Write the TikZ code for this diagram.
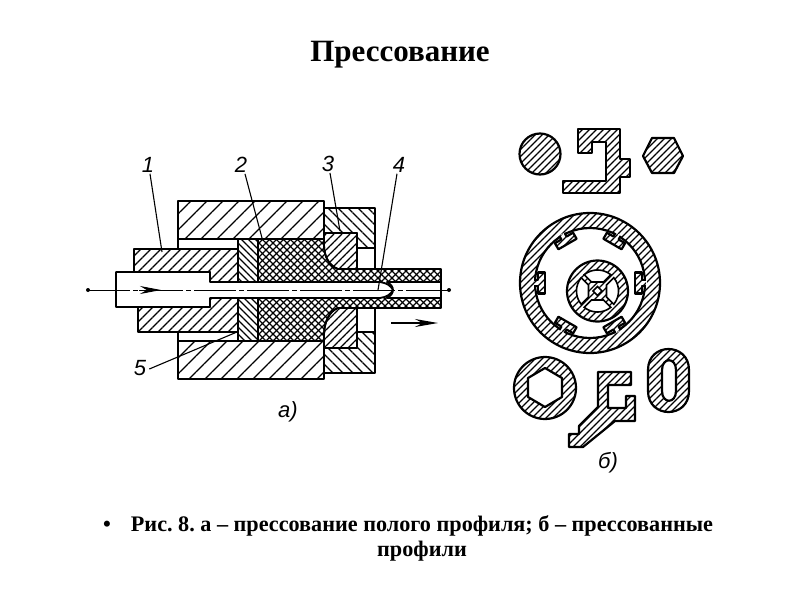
\documentclass[tikz,border=0pt]{standalone}
\usepackage{fontspec}
\setmainfont{Liberation Serif}
\newfontfamily\gostfont{Liberation Sans}
\usetikzlibrary{patterns.meta,arrows.meta}

\tikzset{
	part/.style={draw,line width=1.8pt,line join=round},
	wide/.style={part,pattern={Lines[angle=45,distance=11.314pt,line width=1.2pt]}},
	ram/.style={part,pattern={Lines[angle=45,distance=7.071pt,line width=1.2pt]}},
	holder/.style={part,pattern={Lines[angle=-45,distance=7.071pt,line width=1.2pt]}},
	disc/.style={part,pattern={Lines[angle=-45,distance=4.95pt,line width=1.2pt]}},
	die/.style={part,pattern={Lines[angle=45,distance=5.657pt,line width=1.2pt]}},
	mesh/.style={pattern={Lines[angle=45,distance=4.95pt,line width=1.3pt]}},
	meshb/.style={part,pattern={Lines[angle=-45,distance=4.95pt,line width=1.3pt]}},
	profile/.style={draw,line width=2.2pt,line join=round,pattern={Lines[angle=45,distance=4.95pt,line width=1.2pt]}},
	window/.style={draw,line width=1.6pt,fill=white},
	leader/.style={line width=1.1pt},
	num/.style={font=\gostfont\itshape\fontsize{22}{22}\selectfont,inner sep=0pt},
	capfont/.style={font=\bfseries\fontsize{22.2}{25}\selectfont},
}

\begin{document}
\begin{tikzpicture}[x=1pt,y=-1pt]
	\useasboundingbox (0,0) rectangle (800,600);
	\node[font=\bfseries\fontsize{31}{31}\selectfont] (title) at (400,55) {Прессование};

	% left drawing: container
	\draw[wide] (178,201) rectangle (324,239);
	\draw[wide] (178,341) rectangle (324,379);
	\draw[part] (178,239) rectangle (238,249);
	\draw[part] (178,332) rectangle (238,341);
	% die holder
	\draw[holder] (324,208) -- (375,208) -- (375,248) -- (357,248) -- (357,233) -- (324,233) -- cycle;
	\draw[holder] (324,348) -- (357,348) -- (357,332) -- (375,332) -- (375,373) -- (324,373) -- cycle;
	\draw[part] (357,248) rectangle (375,269);
	\draw[part] (357,308) rectangle (375,332);
	% die
	\draw[die] (324,233) -- (357,233) -- (357,269) -- (338,269) .. controls (329,266) and (324,256) .. (324,245) -- cycle;
	\draw[die] (324,348) -- (357,348) -- (357,308) -- (338,308) .. controls (329,311) and (324,323) .. (324,335) -- cycle;
	% billet and tube
	\path[mesh] (258,239) -- (324,239) -- (324,245) .. controls (324,256) and (329,266) .. (338,269) -- (441,269) -- (441,308) -- (338,308) .. controls (329,311) and (324,323) .. (324,335) -- (324,341) -- (258,341) -- cycle;
	\draw[meshb] (258,239) -- (324,239) -- (324,245) .. controls (324,256) and (329,266) .. (338,269) -- (441,269) -- (441,308) -- (338,308) .. controls (329,311) and (324,323) .. (324,335) -- (324,341) -- (258,341) -- cycle;
	\draw[disc] (238,239) rectangle (258,341);
	% ram
	\draw[ram] (134,249) -- (238,249) -- (238,332) -- (138,332) -- (138,307) -- (210,307) -- (210,272) -- (134,272) -- cycle;
	% mandrel
	\draw[part,fill=white] (116,272) -- (210,272) -- (210,282) -- (380,282) .. controls (387,283) and (391,286) .. (393,290) .. controls (391,294) and (387,297) .. (380,298) -- (210,298) -- (210,307) -- (116,307) -- cycle;
	\draw[part,fill=white] (387,282) -- (441,282) -- (441,298) -- (387,298) .. controls (391,296) and (393,293) .. (393,290) .. controls (393,287) and (391,284) .. (387,282) -- cycle;
	% axis and arrows
	\coordinate (axisl) at (88,290);
	\coordinate (axisr) at (449,290);
	\draw[line width=1pt,dash pattern=on 42pt off 3pt on 5pt off 3pt] (axisl) -- (axisr);
	\fill (axisl) circle (2);
	\fill (axisr) circle (2);
	\coordinate (flowa) at (139,290);
	\coordinate (flowb) at (161,290);
	\draw[-{Stealth[length=21pt,width=8pt]},line width=1pt] (flowa) -- (flowb);
	\coordinate (outa) at (391,323);
	\coordinate (outb) at (438,323);
	\draw[-{Stealth[length=23pt,width=8pt]},line width=1.5pt] (outa) -- (outb);

	% labels
	\node[num] (n1) at (148,165) {1};
	\node[num] (n2) at (241,165) {2};
	\node[num] (n3) at (328,164) {3};
	\node[num] (n4) at (399,165) {4};
	\node[num] (n5) at (140,368) {5};
	\node[num] (na) at (288,412) {а)};
	\coordinate (p1) at (162,252);
	\coordinate (p2) at (262,238);
	\coordinate (p3) at (340,231);
	\coordinate (p4) at (378,290);
	\coordinate (p5) at (237,332);
	\draw[leader] (n1.south) ++(2,1) -- (p1);
	\draw[leader] (n2.south) ++(4,1) -- (p2);
	\draw[leader] (n3.south) ++(2,1) -- (p3);
	\draw[leader] (n4.south) ++(-2,1) -- (p4);
	\draw[leader] (n5.east) ++(3,1) -- (p5);

	% right drawing: top row
	\draw[profile] (540,154) circle (20.5);
	\draw[profile] (578,129) -- (620,129) -- (620,159) -- (630,159) -- (630,177) -- (620,177) -- (620,193) -- (563,193) -- (563,181) -- (606,181) -- (606,142) -- (592,142) -- (592,153) -- (578,153) -- cycle;
	\draw[profile] (643,156) -- (652,138) -- (674,138) -- (683,156) -- (674,173) -- (652,173) -- cycle;

	% ring with ribs
	\draw[profile,even odd rule] (590,283) circle (70) (590,283) circle (55);
	\foreach \a in {0,60,...,300} {
		\fill[white,rotate around={\a:(590,283)}] (642,280.5) rectangle (646.5,285.5);
		\draw[profile,rotate around={\a:(590,283)}] (646,280) -- (642,280) -- (642,272.5) -- (635,272.5) -- (635,293.5) -- (642,293.5) -- (642,286) -- (646,286);
	}
	% inner wheel
	\draw[profile] (597.5,291) circle (30.5);
	\begin{scope}[shift={(597.5,291)}]
		\foreach \a in {0,90,180,270}
			\draw[window,rotate=\a] (9,-6) -- (16.3,-13.3) arc (-39.2:39.2:21) -- (9,6) -- cycle;
		\draw[window] (0,-4.5) -- (4.5,0) -- (0,4.5) -- (-4.5,0) -- cycle;
	\end{scope}

	% bottom row
	\draw[profile,even odd rule] (545,388) circle (31) (545,368) -- (562,378) -- (562,397) -- (545,407) -- (528,397) -- (528,378) -- cycle;
	\draw[profile,even odd rule] (648,370) .. controls (648,342) and (689,342) .. (689,370) -- (689,391) .. controls (689,419) and (648,419) .. (648,391) -- cycle (662,370) .. controls (662,357) and (676,357) .. (676,370) -- (676,391) .. controls (676,404) and (662,404) .. (662,391) -- cycle;
	\draw[profile] (598,372) -- (631,372) -- (631,385) -- (608,385) -- (608,408) -- (626,408) -- (626,396) -- (635,396) -- (635,421) -- (615,421) -- (583,447) -- (569,447) -- (569,434) -- (579,434) -- (579,426) -- (598,407) -- cycle;
	\node[num] (nb) at (608,463) {б)};

	% caption
	\node[capfont] (bullet) at (107,526) {•};
	\node[capfont,align=center] (caption) at (422,538) {\frenchspacing Рис. 8. а – прессование полого профиля; б – прессованные\\профили};
\end{tikzpicture}
\end{document}
